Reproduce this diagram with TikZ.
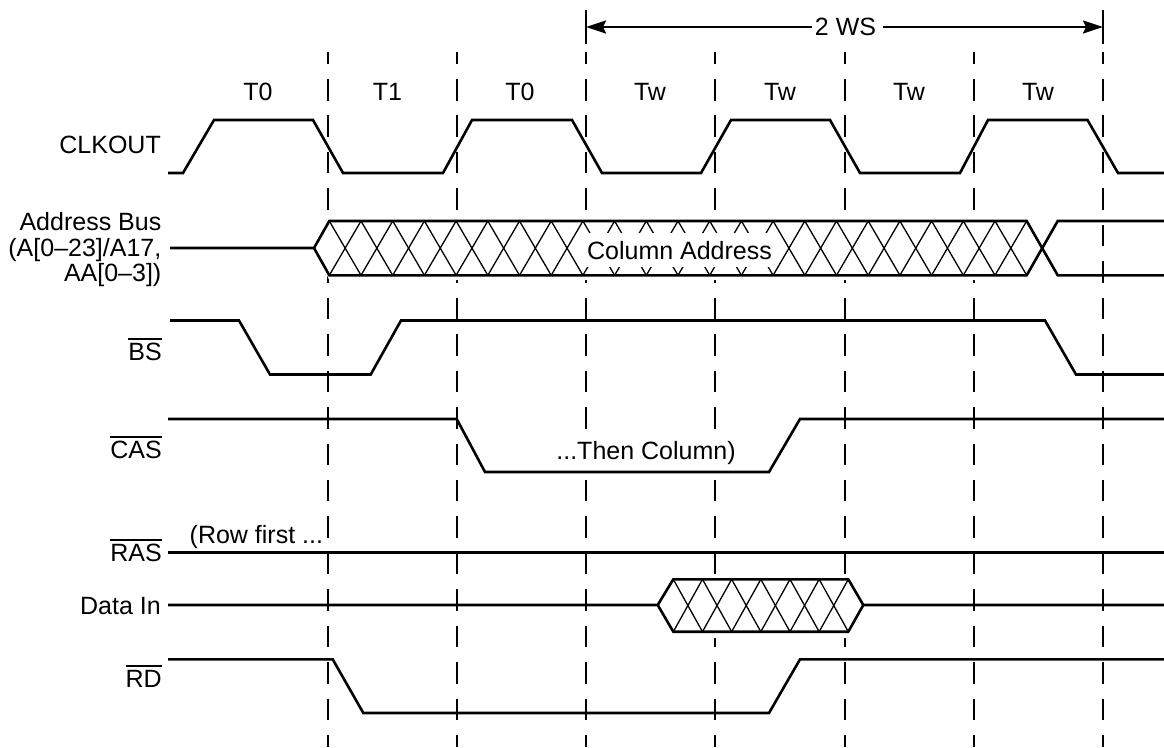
\documentclass[tikz,border=0pt]{standalone}
\usepackage{fontspec}
\setmainfont{Liberation Sans}
\usetikzlibrary{arrows.meta}
\tikzset{
  x=1pt,y=-1pt,
  sig/.style={line width=2.6pt,line join=miter,line cap=butt},
  thin hatch/.style={line width=1.3pt},
  guide/.style={line width=2pt},
  lab/.style={font=\fontsize{25}{25.5}\selectfont,inner sep=0pt,text=black},
  tl/.style={lab,anchor=base},
  sl/.style={lab,anchor=base east},
}
\newcommand{\ovl}[1]{\leavevmode\vbox{\hrule height 2pt\kern 3pt\hbox{#1}}}
\begin{document}
\begin{tikzpicture}
\useasboundingbox (0,0) rectangle (1164,747);
% guides
\foreach \x in {328,457,586,715,845,974,1103}{
  \draw[guide] (\x,52) -- (\x,63.5);
  \foreach \k in {0,...,18}{
    \pgfmathsetmacro{\ya}{79+36.45*\k}
    \pgfmathsetmacro{\yb}{min(\ya+21.5,747)}
    \draw[guide] (\x,\ya) -- (\x,\yb);
  }
}
\coordinate (wsL0) at (586,9.5);
\coordinate (wsL1) at (586,43.5);
\coordinate (wsR0) at (1103,9.5);
\coordinate (wsR1) at (1103,43.5);
\draw[guide] (wsL0) -- (wsL1);
\draw[guide] (wsR0) -- (wsR1);
\node[lab] (ws) at (845.5,27) {2 WS};
\draw[line width=2pt,-{Stealth[length=20pt,width=13pt,inset=3pt]}] (ws.west) ++(-3,0) -- (wsL0 |- ws);
\draw[line width=2pt,-{Stealth[length=20pt,width=13pt,inset=3pt]}] (ws.east) ++(7,0) -- (wsR0 |- ws);
% period labels
\node[tl] (t0a) at (258,100) {T0};
\node[tl] (t1) at (387.5,100) {T1};
\node[tl] (t0b) at (520,100) {T0};
\node[tl] (twa) at (650,100) {Tw};
\node[tl] (twb) at (780,100) {Tw};
\node[tl] (twc) at (909,100) {Tw};
\node[tl] (twd) at (1038,100) {Tw};
% CLKOUT
\draw[sig] (168,173) -- (183,173) -- (214,120) -- (313,120) -- (343,173) -- (443,173) -- (472,120) -- (572,120) -- (602,173) -- (701,173) -- (731,120) -- (830,120) -- (860,173) -- (960,173) -- (988,120) -- (1087.5,120) -- (1118,173) -- (1164,173);
% Address bus
\fill[white] (314,248) -- (329.3,221) -- (1026.7,221) -- (1042,248) -- (1026.7,280) -- (329.3,280) -- cycle;
\foreach \i in {0,...,21}{
  \pgfmathsetmacro{\xa}{329.3+31.7*\i}
  \pgfmathsetmacro{\xb}{\xa+31.7}
  \draw[thin hatch] (\xa,221) -- (\xb,275.3);
  \draw[thin hatch] (\xa,275.3) -- (\xb,221);
}
\node[fill=white,minimum width=190pt,minimum height=34pt,inner sep=0pt] (camask) at (680,250) {};
\node[tl] (ca) at (679.5,259) {Column Address};
\draw[sig] (170,248) -- (314,248) -- (329.3,221) -- (1026.7,221) -- (1057.7,275.3) -- (1164,275.3);
\draw[sig] (314,248) -- (329.3,275.3) -- (1026.7,275.3) -- (1057.7,221) -- (1164,221);
% BS
\draw[sig] (170,320.5) -- (239,320.5) -- (270,374.5) -- (370.7,374.5) -- (401,320.5) -- (1045,320.5) -- (1076,374.5) -- (1164,374.5);
% CAS
\draw[sig] (168,419) -- (456.7,419) -- (485,472) -- (769,472) -- (800,419) -- (1164,419);
% RAS
\draw[sig] (168,552.3) -- (1164,552.3);
% Data In
\fill[white] (657.7,605) -- (673.3,579.3) -- (848.3,579.3) -- (863.3,605) -- (848.3,638) -- (673.3,638) -- cycle;
\foreach \i in {0,...,5}{
  \pgfmathsetmacro{\xa}{673.3+29.17*\i}
  \pgfmathsetmacro{\xb}{\xa+29.17}
  \draw[thin hatch] (\xa,579.3) -- (\xb,631.7);
  \draw[thin hatch] (\xa,631.7) -- (\xb,579.3);
}
\draw[sig] (168,605) -- (657.7,605) -- (673.3,579.3) -- (848.3,579.3) -- (863.3,605) -- (1164,605);
\draw[sig] (657.7,605) -- (673.3,631.7) -- (848.3,631.7) -- (863.3,605);
% RD
\draw[sig] (168,659.3) -- (332.7,659.3) -- (363.3,713) -- (769,713) -- (800,659.3) -- (1164,659.3);
% Signal labels
\node[sl] (clk) at (161,153) {CLKOUT};
\node[lab,anchor=east,align=right] (addr) at (161.5,250) {Address Bus\\(A[0–23]/A17,\\AA[0–3])};
\node[sl] (bs) at (162,360) {\ovl{BS}};
\node[sl] (cas) at (162,458) {\ovl{CAS}};
\node[sl] (ras) at (162,561) {\ovl{RAS}};
\node[sl] (din) at (161,614) {Data In};
\node[sl] (rd) at (162,687) {\ovl{RD}};
\node[lab,anchor=base west] (row) at (189.5,543) {(Row first ...};
\node[tl,fill=white,inner xsep=1pt,inner ysep=3pt] (thenc) at (646,459) {...Then Column)};
\end{tikzpicture}
\end{document}
